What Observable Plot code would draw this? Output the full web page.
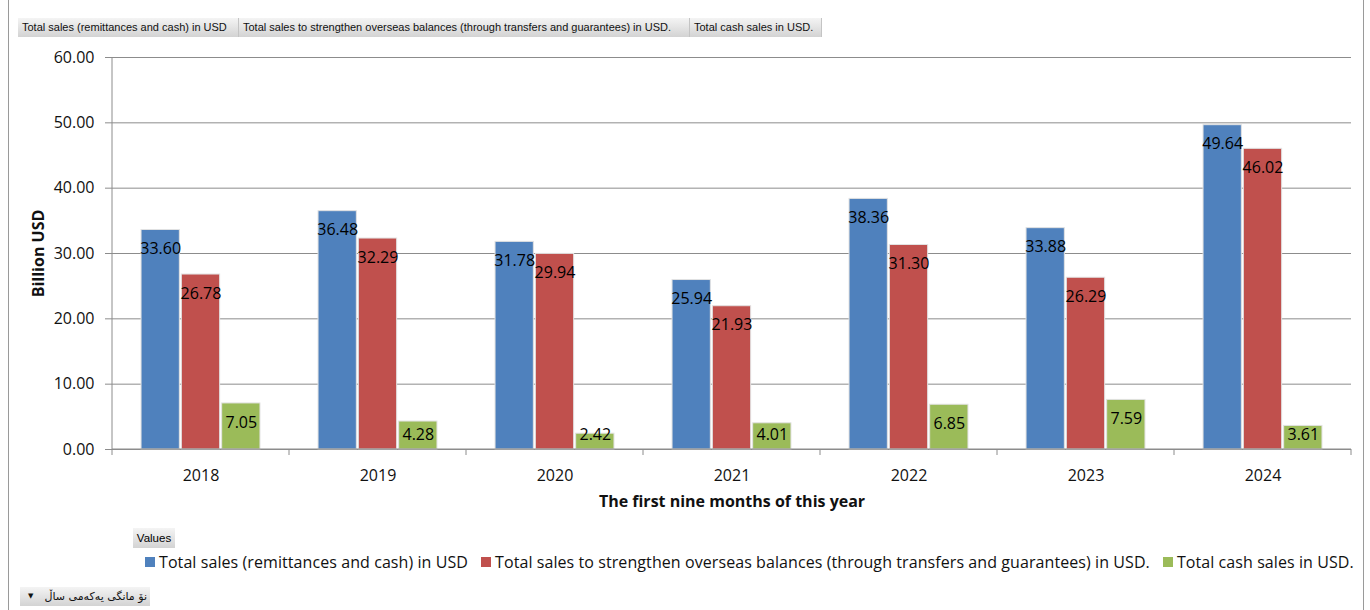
<!DOCTYPE html>
<html>
<head>
<meta charset="utf-8">
<script src="https://cdn.jsdelivr.net/npm/d3@7"></script>
<script src="https://cdn.jsdelivr.net/npm/@observablehq/plot@0.6"></script>
<style>
  html, body { margin: 0; padding: 0; background: #fff; }
  #page { position: relative; width: 1370px; height: 610px; overflow: hidden; font-family: "Open Sans", sans-serif; }
  #frame { position: absolute; left: 8px; top: 0; width: 1354px; height: 610px; border-left: 1px solid #9a9a9a; border-right: 1px solid #9a9a9a; }
  .btnrow { position: absolute; left: 18px; top: 18px; height: 19px; display: flex; }
  .btn { height: 19px; line-height: 19px; font-family: "Liberation Sans Narrow", "Liberation Sans", sans-serif; font-size: 11px; color: #111;
         background: linear-gradient(#f4f4f4, #d3d3d3); border-right: 1px solid #c4c4c4; box-sizing: border-box; padding-left: 4px; white-space: nowrap; overflow: hidden; }
  #chart { position: absolute; left: 0; top: 40px; }
  #values { position: absolute; left: 133px; top: 528px; width: 42px; height: 20px; line-height: 20px; text-align: center;
            font-family: "Liberation Sans Narrow", "Liberation Sans", sans-serif; font-size: 11.5px; background: linear-gradient(#f4f4f4, #d3d3d3); }
  #legend { position: absolute; left: 145px; top: 551px; height: 22px; display: flex; align-items: center; font-size: 16px; color: #111; white-space: nowrap; letter-spacing: 0.08px; }
  .item { display: flex; align-items: center; margin-right: 13px; }
  .sw { width: 10px; height: 10px; margin-right: 4px; }
  #dropdown { position: absolute; left: 20px; top: 587px; width: 130px; height: 19px; line-height: 19px; background: linear-gradient(#f4f4f4, #d3d3d3);
              font-family: "DejaVu Sans", sans-serif; font-size: 11px; color: #111; box-sizing: border-box; }
  #dropdown .arr { position: absolute; left: 8px; top: 0; font-size: 7px; }
  #dropdown .txt { position: absolute; right: 3px; top: 0; direction: rtl; }
</style>
</head>
<body>
<div id="page">
  <div id="frame"></div>
  <div class="btnrow" id="btnrow"></div>
  <div id="chart"></div>
  <div id="values">Values</div>
  <div id="legend"></div>
  <div id="dropdown"><span class="arr">▼</span><span class="txt">نۆ مانگی یەکەمی ساڵ</span></div>
</div>
<script>
const years = ["2018", "2019", "2020", "2021", "2022", "2023", "2024"];
const seriesNames = [
  "Total sales (remittances and cash) in USD",
  "Total sales to strengthen overseas balances (through transfers and guarantees) in USD.",
  "Total cash sales in USD."
];
const totalSales    = [33.60, 36.48, 31.78, 25.94, 38.36, 33.88, 49.64];
const overseasSales = [26.78, 32.29, 29.94, 21.93, 31.30, 26.29, 46.02];
const cashSales     = [7.05, 4.28, 2.42, 4.01, 6.85, 7.59, 3.61];
const seriesColors  = ["#4F81BD", "#C0504D", "#9BBB59"];
const yTicks = [0, 10, 20, 30, 40, 50, 60];
const xTitle = "The first nine months of this year";
const yTitle = "Billion USD";
const buttonWidths = [221, 451, 132];

const seriesValues = [totalSales, overseasSales, cashSales];
const rows = [];
years.forEach((yr, i) => {
  seriesNames.forEach((s, j) => rows.push({year: yr, series: s, value: seriesValues[j][i]}));
});

const gridColor = "#8c8c8c";
// short bars: the label is kept just above the base instead of below the top
const shortBar = 5.2;

const chart = Plot.plot({
  width: 1370,
  height: 475,
  marginLeft: 110,
  marginRight: 18,
  marginTop: 17,
  marginBottom: 66,
  style: {fontFamily: "'Open Sans', sans-serif", fontSize: "16px", color: "#111", background: "transparent", overflow: "visible"},
  fx: {domain: years, padding: 0},
  x: {domain: seriesNames, paddingInner: 0.05, paddingOuter: 0.72, round: false, axis: null},
  y: {domain: [0, 60]},
  color: {domain: seriesNames, range: seriesColors},
  marks: [
    Plot.gridY(yTicks, {stroke: gridColor, strokeOpacity: 1}),
    Plot.axisY(yTicks, {tickFormat: d => d.toFixed(2), tickSize: 7, tickPadding: 11, stroke: gridColor, fontSize: 16, label: null}),
    Plot.axisY({ticks: [], label: yTitle, labelAnchor: "center", labelArrow: "none", labelOffset: 80, fontSize: 16, fontWeight: "bold"}),
    Plot.axisFx({anchor: "bottom", tickSize: 0, tickPadding: 20, fontSize: 16, label: null}),
    Plot.axisFx({anchor: "bottom", ticks: [], label: xTitle, labelAnchor: "center", labelArrow: "none", labelOffset: 57, fontSize: 16, fontWeight: "bold"}),
    Plot.barY(rows, {fx: "year", x: "series", y: "value", fill: "series", stroke: "#e2e2e2", strokeWidth: 1}),
    Plot.text(rows.filter(d => d.value >= shortBar), {fx: "year", x: "series", y: "value", text: d => d.value.toFixed(2), dy: 19, fontSize: 16, fill: "#000"}),
    Plot.text(rows.filter(d => d.value < shortBar), {fx: "year", x: "series", y: 0, text: d => d.value.toFixed(2), dy: -15, fontSize: 16, fill: "#000"})
  ]
});

// axis line and category boundary ticks, positioned from Plot's own scales
const fxs = chart.scale("fx");
const ys = chart.scale("y");
const y0 = ys.apply(0);
const bounds = years.map(y => fxs.apply(y));
bounds.push(fxs.apply(years[years.length - 1]) + fxs.bandwidth);
const g = d3.select(chart).append("g").attr("stroke", gridColor).attr("stroke-width", 1);
g.append("line").attr("x1", bounds[0]).attr("x2", bounds[0]).attr("y1", ys.apply(60)).attr("y2", y0);
g.append("line").attr("x1", bounds[0]).attr("x2", bounds[bounds.length - 1]).attr("y1", y0).attr("y2", y0);
bounds.forEach(b => g.append("line").attr("x1", b).attr("x2", b).attr("y1", y0).attr("y2", y0 + 6));

document.getElementById("chart").appendChild(chart);

// top field buttons
const btnrow = document.getElementById("btnrow");
seriesNames.forEach((s, i) => {
  const b = document.createElement("div");
  b.className = "btn";
  b.style.width = buttonWidths[i] + "px";
  b.textContent = s;
  btnrow.appendChild(b);
});

// legend
const legend = document.getElementById("legend");
seriesNames.forEach((s, i) => {
  const it = document.createElement("div");
  it.className = "item";
  const sw = document.createElement("div");
  sw.className = "sw";
  sw.style.background = seriesColors[i];
  const t = document.createElement("span");
  t.textContent = s;
  it.appendChild(sw);
  it.appendChild(t);
  legend.appendChild(it);
});
</script>
</body>
</html>
